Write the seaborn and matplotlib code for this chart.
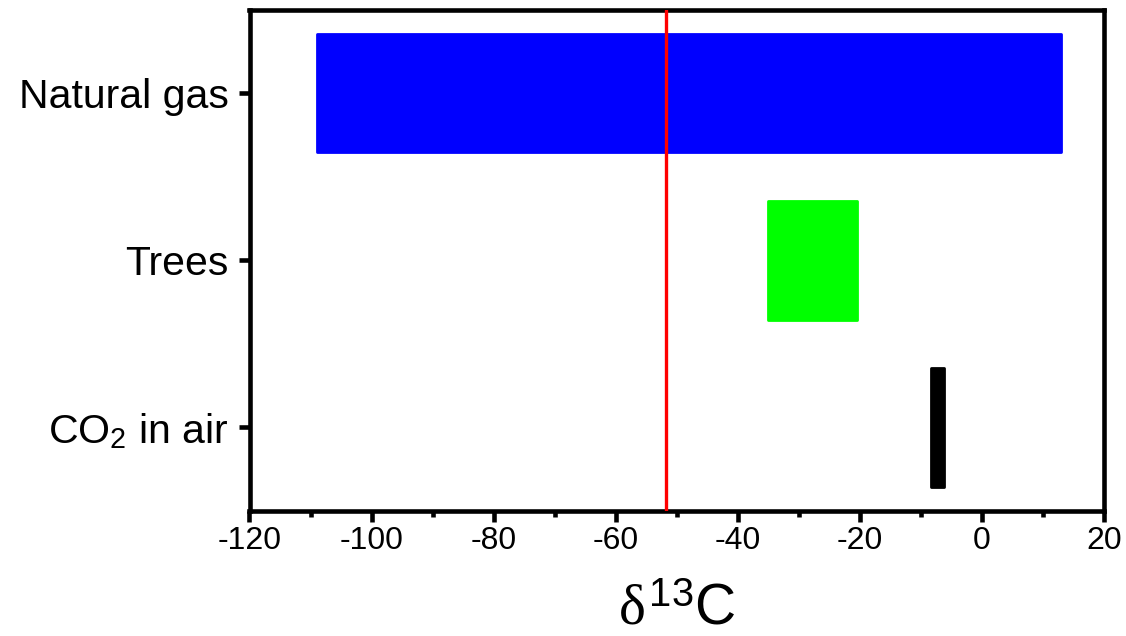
import matplotlib
matplotlib.use("Agg")
import matplotlib.pyplot as plt
import seaborn as sns
import pandas as pd

# Data
categories = ["Natural gas", "Trees", "CO$_2$ in air"]
range_low = [-109.0, -35.0, -8.3]
range_high = [13.0, -20.5, -6.2]
bar_colors = ["#0000FF", "#00FF00", "#000000"]
reference_value = -51.7
x_ticks = [-120, -100, -80, -60, -40, -20, 0, 20]

sns.set_style("ticks")
plt.rcParams["font.family"] = ["Liberation Sans", "DejaVu Sans"]
plt.rcParams["mathtext.fontset"] = "custom"
plt.rcParams["mathtext.rm"] = "Liberation Sans"
plt.rcParams["mathtext.it"] = "Liberation Serif"
plt.rcParams["mathtext.bf"] = "Liberation Sans:bold"
plt.rcParams["text.color"] = "black"
plt.rcParams["axes.labelcolor"] = "black"

df = pd.DataFrame({
    "category": categories,
    "low": range_low,
    "high": range_high,
})
df["span"] = df["high"] - df["low"]

fig = plt.figure(figsize=(11.26, 6.36), dpi=100)
ax = fig.add_axes([249.5 / 1126, 1 - 511 / 636, (1104 - 249.5) / 1126, (511 - 9.5) / 636])

sns.barplot(data=df, x="span", y="category", order=categories, orient="y",
            width=0.71, ax=ax, left=df["low"].values, errorbar=None,
            color="black", saturation=1)
for patch, c in zip(ax.patches, bar_colors):
    patch.set_facecolor(c)
    patch.set_edgecolor(c)
    patch.set_linewidth(2)
    patch.set_joinstyle("round")

ax.axvline(reference_value, color="#FF0000", lw=2.4, zorder=5)

ax.set_xlim(-120, 20)
ax.set_ylim(2.5, -0.5)
ax.set_xticks(x_ticks)
ax.set_xticklabels([str(t) for t in x_ticks])
ax.xaxis.set_minor_locator(matplotlib.ticker.MultipleLocator(10))
ax.set_yticks(range(len(categories)))
ax.set_yticklabels(categories)

for side in ["top", "bottom", "left", "right"]:
    ax.spines[side].set_visible(True)
    ax.spines[side].set_linewidth(3.3)
    ax.spines[side].set_color("black")

ax.tick_params(axis="x", which="major", direction="out", length=8, width=3.3,
               labelsize=23, pad=3, colors="black")
ax.tick_params(axis="x", which="minor", direction="out", length=4.5, width=3.3,
               colors="black")
ax.tick_params(axis="y", which="major", direction="out", length=8, width=3.3,
               labelsize=29.5, pad=7, colors="black")
ax.tick_params(axis="y", which="minor", left=False)

ax.set_xlabel(r"$\delta^{\mathrm{13}}\mathrm{C}$", fontsize=41, labelpad=19,
              color="black")
ax.set_ylabel("")

fig.savefig("out.png", dpi=100)
